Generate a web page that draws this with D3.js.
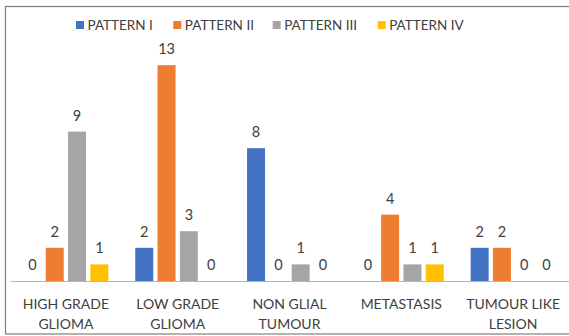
<!DOCTYPE html>
<html>
<head>
<meta charset="utf-8">
<script src="https://cdn.jsdelivr.net/npm/d3@7/dist/d3.min.js"></script>
<style>
  html, body { margin: 0; padding: 0; background: #fff; }
  svg { display: block; }
  text { font-family: Lato, "Open Sans", sans-serif; fill: #404040; }
</style>
</head>
<body>
<svg id="chart" width="569" height="336"></svg>
<script>
// Diagnoses (two-line axis labels) and counts for each pattern
const categories = [["HIGH GRADE", "GLIOMA"], ["LOW GRADE", "GLIOMA"], ["NON GLIAL", "TUMOUR"], ["METASTASIS"], ["TUMOUR LIKE", "LESION"]];
const seriesNames = ["PATTERN I", "PATTERN II", "PATTERN III", "PATTERN IV"];
const patternI   = [0, 2, 8, 0, 2];
const patternII  = [2, 13, 0, 4, 2];
const patternIII = [9, 3, 1, 1, 0];
const patternIV  = [1, 0, 0, 1, 0];
const colors = ["#4472C4", "#ED7D31", "#A5A5A5", "#FFC000"];

const values = [patternI, patternII, patternIII, patternIV];
const svg = d3.select("#chart");

// chart frame
svg.append("rect")
  .attr("x", 5.5).attr("y", 6.5)
  .attr("width", 600).attr("height", 327.5)
  .attr("fill", "none").attr("stroke", "#7f7f7f").attr("stroke-width", 1.2);

const baseY = 281;
const y = d3.scaleLinear().domain([0, 14]).range([baseY, baseY - 14 * 16.6]);

const catKeys = categories.map(c => c.join(" "));
const x0 = d3.scaleBand().domain(catKeys).range([10, 569]).padding(0);
const x1 = d3.scaleBand().domain(seriesNames).range([0, x0.bandwidth()])
  .paddingInner(0.193).paddingOuter(0.603);

const groups = svg.append("g").selectAll("g")
  .data(catKeys)
  .join("g")
  .attr("transform", d => `translate(${x0(d)},0)`);

groups.selectAll("rect")
  .data((d, i) => seriesNames.map((s, j) => ({ s, j, v: values[j][i] })))
  .join("rect")
  .attr("x", d => x1(d.s))
  .attr("y", d => y(d.v))
  .attr("width", x1.bandwidth())
  .attr("height", d => baseY - y(d.v))
  .attr("fill", d => colors[d.j]);

groups.selectAll("text.val")
  .data((d, i) => seriesNames.map((s, j) => ({ s, j, v: values[j][i] })))
  .join("text")
  .attr("class", "val")
  .attr("x", d => x1(d.s) + x1.bandwidth() / 2)
  .attr("y", d => y(d.v) - 11)
  .attr("text-anchor", "middle")
  .style("font-size", "14.5px")
  .text(d => d.v);

// baseline
const xAxis = d3.axisBottom(x0).tickSize(0).tickFormat("");
const axisG = svg.append("g").attr("transform", `translate(0,${baseY})`).call(xAxis);
axisG.select(".domain").attr("stroke", "#b4b4b4").attr("stroke-width", 1.2);

// category labels
const labelG = svg.append("g");
categories.forEach((lines, i) => {
  const t = labelG.append("text")
    .attr("x", x0(catKeys[i]) + x0.bandwidth() / 2)
    .attr("y", 309)
    .attr("text-anchor", "middle")
    .style("font-size", "14px");
  lines.forEach((ln, k) => {
    t.append("tspan")
      .attr("x", x0(catKeys[i]) + x0.bandwidth() / 2)
      .attr("dy", k === 0 ? 0 : 20)
      .text(ln);
  });
});

// legend
const legendX = [76, 173.3, 272.7, 377.7];
const leg = svg.append("g");
seriesNames.forEach((s, j) => {
  leg.append("rect")
    .attr("x", legendX[j]).attr("y", 21)
    .attr("width", 8).attr("height", 8)
    .attr("fill", colors[j]);
  leg.append("text")
    .attr("x", legendX[j] + 11.5).attr("y", 30)
    .style("font-size", "13.5px")
    .text(s);
});
</script>
</body>
</html>
